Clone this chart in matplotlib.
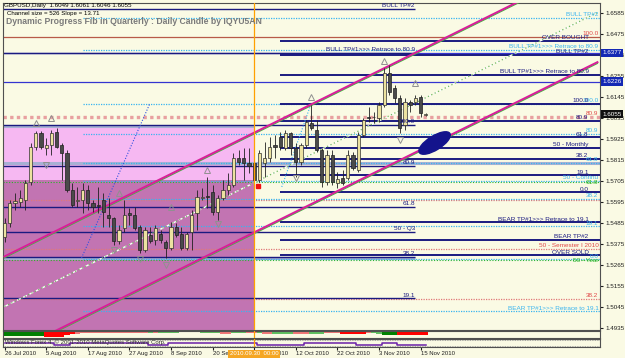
import numpy as np
import matplotlib
matplotlib.use("Agg")
import matplotlib.pyplot as plt
import matplotlib.transforms as mtransforms
from matplotlib.patches import Ellipse

plt.rcParams['font.family'] = ['Liberation Sans', 'DejaVu Sans']

# GBPUSD daily candles, 26 Jul 2010 .. 16 Nov 2010
opens = [1.5412, 1.5485, 1.5590, 1.5595, 1.5606, 1.5700, 1.5883, 1.5956, 1.5878, 1.5894,
         1.5962, 1.5894, 1.5852, 1.5658, 1.5600, 1.5606, 1.5658, 1.5590, 1.5580, 1.5606,
         1.5527, 1.5511, 1.5391, 1.5459, 1.5538, 1.5527, 1.5464, 1.5344, 1.5422, 1.5396,
         1.5427, 1.5385, 1.5354, 1.5464, 1.5427, 1.5354, 1.5438, 1.5538, 1.5616, 1.5627,
         1.5647, 1.5543, 1.5616, 1.5658, 1.5684, 1.5825, 1.5825, 1.5799, 1.5799, 1.5710,
         1.5799, 1.5825, 1.5894, 1.5935, 1.5878, 1.5956, 1.5878, 1.5804, 1.5894, 1.6009,
         1.5972, 1.5867, 1.5700, 1.5841, 1.5695, 1.5721, 1.5721, 1.5841, 1.5763, 1.5946,
         1.6040, 1.6040, 1.6035, 1.6103, 1.6271, 1.6192, 1.6140, 1.5998, 1.6118, 1.6118,
         1.6145, 1.6049]
highs = [1.5511, 1.5606, 1.5642, 1.5658, 1.5710, 1.5904, 1.5967, 1.5967, 1.5930, 1.5972,
         1.5983, 1.5904, 1.5867, 1.5695, 1.5674, 1.5695, 1.5684, 1.5606, 1.5674, 1.5642,
         1.5616, 1.5516, 1.5475, 1.5606, 1.5564, 1.5569, 1.5475, 1.5464, 1.5464, 1.5475,
         1.5448, 1.5396, 1.5490, 1.5485, 1.5464, 1.5438, 1.5553, 1.5658, 1.5668, 1.5726,
         1.5684, 1.5632, 1.5710, 1.5747, 1.5851, 1.5867, 1.5878, 1.5878, 1.5867, 1.5867,
         1.5909, 1.5935, 1.5946, 1.5962, 1.5972, 1.5962, 1.5904, 1.5904, 1.6025, 1.6103,
         1.6025, 1.5878, 1.5867, 1.5867, 1.5752, 1.5763, 1.5867, 1.5857, 1.5962, 1.6035,
         1.6092, 1.6066, 1.6118, 1.6297, 1.6313, 1.6207, 1.6156, 1.6140, 1.6129, 1.6156,
         1.6156, 1.6061]
lows = [1.5386, 1.5464, 1.5553, 1.5569, 1.5553, 1.5684, 1.5867, 1.5873, 1.5841, 1.5841,
        1.5878, 1.5710, 1.5648, 1.5569, 1.5569, 1.5538, 1.5553, 1.5543, 1.5538, 1.5464,
        1.5464, 1.5370, 1.5375, 1.5438, 1.5475, 1.5448, 1.5328, 1.5333, 1.5380, 1.5370,
        1.5380, 1.5302, 1.5344, 1.5412, 1.5344, 1.5344, 1.5344, 1.5448, 1.5606, 1.5564,
        1.5527, 1.5501, 1.5606, 1.5632, 1.5674, 1.5789, 1.5710, 1.5747, 1.5684, 1.5700,
        1.5726, 1.5804, 1.5825, 1.5867, 1.5867, 1.5841, 1.5726, 1.5789, 1.5878, 1.5972,
        1.5857, 1.5674, 1.5684, 1.5684, 1.5668, 1.5684, 1.5710, 1.5763, 1.5752, 1.5935,
        1.6014, 1.6009, 1.6014, 1.6092, 1.6156, 1.6113, 1.5956, 1.5972, 1.6066, 1.6103,
        1.6040, 1.6046]
closes = [1.5485, 1.5590, 1.5600, 1.5616, 1.5695, 1.5883, 1.5956, 1.5883, 1.5894, 1.5956,
          1.5883, 1.5852, 1.5658, 1.5580, 1.5606, 1.5658, 1.5590, 1.5569, 1.5575, 1.5543,
          1.5511, 1.5391, 1.5448, 1.5527, 1.5527, 1.5459, 1.5344, 1.5448, 1.5391, 1.5459,
          1.5396, 1.5354, 1.5464, 1.5422, 1.5354, 1.5427, 1.5527, 1.5621, 1.5621, 1.5621,
          1.5543, 1.5616, 1.5658, 1.5684, 1.5825, 1.5804, 1.5799, 1.5783, 1.5710, 1.5852,
          1.5825, 1.5883, 1.5883, 1.5883, 1.5956, 1.5878, 1.5804, 1.5894, 1.6014, 1.5983,
          1.5867, 1.5700, 1.5841, 1.5700, 1.5716, 1.5695, 1.5841, 1.5773, 1.5946, 1.6025,
          1.6035, 1.6040, 1.6103, 1.6271, 1.6171, 1.6140, 1.5983, 1.6118, 1.6103, 1.6140,
          1.6061, 1.6055]

date_bars = [0, 8, 16, 24, 32, 40, 48, 56, 64, 72, 80]
date_labels = ['26 Jul 2010', '5 Aug 2010', '17 Aug 2010', '27 Aug 2010', '8 Sep 2010',
               '20 Sep 2010', '30 Sep 2010', '12 Oct 2010', '22 Oct 2010', '3 Nov 2010',
               '15 Nov 2010']
price_ticks = [1.4935, 1.5045, 1.5155, 1.5265, 1.5375, 1.5485, 1.5595, 1.5705, 1.5815,
               1.5925, 1.6035, 1.6145, 1.6255, 1.6365, 1.6475, 1.6585]

# quarterly fib (navy, runs to bar 79)
q_levels = [1.6606, 1.6377, 1.5998, 1.5784, 1.5569, 1.5438, 1.5307, 1.5092]
q_labels = ['BULL TP#2', 'BULL TP#1>>> Retrace to 80.9', '100.0', '80.9', '61.8',
            '50 - Q3', '38.2', '19.1']
# monthly fib (navy, thick, from bar 53)
m_levels = [1.6438, 1.6365, 1.6260, 1.6108, 1.6019, 1.5935, 1.5878, 1.5820, 1.5736,
            1.5647, 1.5490, 1.5396, 1.5317]
m_labels = ['OVER BOUGHT', 'BULL TP#2', 'BULL TP#1>>> Retrace to 80.9', '100.0', '80.9',
            '61.8', '50 - Monthly', '38.2', '19.1', '0.0', 'BEAR TP#1>>> Retrace to 19.1',
            'BEAR TP#2', 'OVER SOLD']
# continuous fib (cyan dotted, from bar 15)
c_levels = [1.6559, 1.6391, 1.6108, 1.5951, 1.5799, 1.5705, 1.5611, 1.5469, 1.5296, 1.5024]
c_labels = ['BULL TP#2', 'BULL TP#1>>> Retrace to 80.9', '100.0', '80.9', '61.8',
            '50 - Continu', '38.2', '19.1', '0.0', 'BEAR TP#1>>> Retrace to 19.1']
# semester fib (red)
s_levels = [1.6459, 1.6040, 1.5606, 1.5349, 1.5087]
s_labels = ['100.0', '80.9', '', '50 - Semester I 2010', '38.2']
# year fib (green)
yr_levels = [1.5700, 1.5291]
yr_labels = ['61.8', '50 - Year']
# grey highlight lines
hl_levels = [1.5993, 1.5799, 1.5302]
hl_ends = [48, 115, 79]

# coloured zone left of the quarter start
zone_top = 1.5993
zone_mid = 1.5710

# regression channel
chan_x = [0, 114]
chan_upper = [1.5310, 1.6849]
chan_mid = [1.5048, 1.6587]
chan_lower = [1.4788, 1.6327]

fan1_x = [14.8, 27.9]
fan1_y = [1.5302, 1.6108]
fan2_x = [53.3, 59.0]
fan2_y = [1.5674, 1.6114]

up_bars = [6, 9, 22, 32, 39, 59, 73, 79]
up_price = [1.6009, 1.6035, 1.5642, 1.5569, 1.5763, 1.6145, 1.6334, 1.6218]
dn_bars = [8, 21, 26, 31, 41, 56, 76]
dn_price = [1.5789, 1.5344, 1.5296, 1.5265, 1.5480, 1.5721, 1.5920]

box_prices = [1.6377, 1.6226, 1.6055]
box_colors = ['#1428B4', '#1428B4', '#101010']

osc = [0.8, 0.8, 0.8, 0.8, 0.8, 0.8, 0.8, 0.8, -0.9, -0.9,
       -0.9, -0.9, -0.6, -0.5, -0.4, -0.35, -0.3, -0.2, -0.2, -0.2,
       -0.2, -0.2, -0.2, -0.2, -0.3, -0.3, -0.25, -0.25, 0.3, -0.3,
       0.2, 0.2, 0.2, 0.2, 0.15, 0.15, 0.15, 0.15, 0.3, 0.3,
       0.3, 0.3, -0.4, -0.4, 0.35, 0.35, 0.35, -0.3, -0.3, 0.3,
       -0.4, -0.4, 0.4, 0.4, 0.4, 0.4, -0.4, -0.4, -0.4, 0.4,
       0.4, 0.4, -0.3, -0.3, -0.3, -0.5, -0.5, -0.5, -0.5, -0.5,
       -0.3, 0.3, 0.4, 0.6, 0.6, 0.6, -0.6, -0.6, -0.6, -0.6,
       -0.6, -0.6]
osc2 = [0, 0, 0, 0, 0, 0, 0, 0, 0, 0,
        -0.6, -0.6, -0.6, 0, 0, 0, 0, 0, 0, 0,
        0, 0, 0, 0, 0, 0, 0, 0, -0.6, -0.6,
        -0.6, -0.6, 0, 0, 0, 0, 0, 0, 0, 0,
        0, 0, 0, 0, 0, 0, 0, 0, 0, -0.6,
        -0.6, -0.6, -0.6, -0.6, -0.6, -0.6, -0.6, -0.6, 0, 0,
        0, 0, 0, 0, 0, 0, 0, 0, -0.6, -0.6,
        -0.6, -0.6, -0.6, 0, 0, 0, -0.6, -0.6, -0.6, -0.6,
        -0.6, -0.6]

BG = '#FAFAE4'
NAVY = '#1A1A80'
CYAN = '#38B4F0'
RED = '#E04848'
GREEN = '#28B428'
W, H = 625, 358

fig = plt.figure(figsize=(6.25, 3.58), dpi=100, facecolor=BG)


def pix_axes(x0, y0, x1, y1):
    return fig.add_axes([x0 / W, 1 - y1 / H, (x1 - x0) / W, (y1 - y0) / H])


ax = pix_axes(3, 3, 600, 330)
ax1 = pix_axes(3, 331, 600, 338)
ax2 = pix_axes(3, 339, 600, 347)
x0, x1 = -0.3, 114.5
for a in (ax, ax1, ax2):
    a.set_facecolor(BG)
    a.set_xlim(x0, x1)
    for s in a.spines.values():
        s.set_color('#505050')
        s.set_linewidth(0.8)
ax.set_ylim(1.4925, 1.6637)

# zone
ax.fill_between([x0, 48], zone_mid, zone_top, color='#F6B8F2', lw=0, zorder=0.5)
ax.fill_between([x0, 48], 1.4925, zone_mid, color='#C274B2', lw=0, zorder=0.5)

# highlight lines
for lev, xe in zip(hl_levels, hl_ends):
    ax.hlines(lev, x0, xe, color='#A8B0D4', lw=2.2, zorder=1)

fs = 4.6
lx_q, lx_m, lx_r = 78.9, 112.3, 114.2

# semester (red)
ax.hlines(s_levels[0], x0, x1, color='#B85A48', lw=0.9, zorder=1.5)
ax.hlines(s_levels[1], x0, x1, color='#E8A0A0', lw=2.4, linestyles=(0, (1, 1)), zorder=1.5)
ax.hlines(s_levels[2:], x0, x1, color='#E07878', lw=0.9, linestyles=(0, (1, 1)), zorder=1.5)
for lev, lab in zip(s_levels, s_labels):
    ax.text(lx_r, lev + 0.0003, lab, ha='right', va='bottom', fontsize=fs, color=RED, zorder=6)

# year (green)
ax.hlines(yr_levels, x0, x1, color=GREEN, lw=0.8, linestyles=(0, (1, 1.5)), zorder=1.5)
for lev, lab in zip(yr_levels, yr_labels):
    ax.text(lx_r, lev - 0.0002, lab, ha='right', va='center', fontsize=fs, color=GREEN, zorder=6)

# continuous (cyan)
ax.hlines(c_levels, 15, x1, color=CYAN, lw=0.9, linestyles=(0, (1, 1)), zorder=1.6)
for lev, lab in zip(c_levels, c_labels):
    ax.text(lx_r, lev + 0.0003, lab, ha='right', va='bottom', fontsize=fs, color=CYAN, zorder=6)

# price box lines (blue)
ax.hlines(box_prices[:2], x0, x1, color='#3434D0', lw=0.9, zorder=1.7)

# quarterly (navy)
ax.hlines(q_levels, x0, 79, color=NAVY, lw=1.0, zorder=1.8)
for lev, lab in zip(q_levels, q_labels):
    ax.text(lx_q, lev + 0.0003, lab, ha='right', va='bottom', fontsize=fs, color=NAVY, zorder=6)

# monthly (navy, thick)
ax.hlines(m_levels, 53, x1, color=NAVY, lw=1.4, zorder=1.8)
for lev, lab in zip(m_levels, m_labels):
    ax.text(lx_m, lev + 0.0003, lab, ha='right', va='bottom', fontsize=fs, color=NAVY, zorder=6)

# channel: magenta line with a thin green edge just under it
edge = mtransforms.offset_copy(ax.transData, fig=fig, x=0, y=-1.2, units='dots')
for yy in (chan_upper, chan_lower):
    ax.plot(chan_x, yy, color='#3CC03C', lw=0.9, zorder=3, transform=edge)
    ax.plot(chan_x, yy, color='#D8209A', lw=1.5, zorder=3.1)
ax.plot(chan_x, chan_mid, color='white', lw=1.0, ls=(0, (3, 2)), zorder=3)
ax.plot(chan_x, chan_mid, color='#70B860', lw=0.9, ls=(0, (1, 2)), zorder=3.1)

ax.plot(fan1_x, fan1_y, color='#3050E0', lw=0.8, ls=(0, (1, 1.5)), zorder=3)
ax.plot(fan2_x, fan2_y, color=CYAN, lw=0.8, ls=(0, (1, 1.5)), zorder=3)

# candles
o, h, l, c = map(np.array, (opens, highs, lows, closes))
idx = np.arange(len(o))
bull = c >= o
ax.vlines(idx, l, h, color='#202020', lw=0.6, zorder=4)
lo = np.minimum(o, c)
bh = np.maximum(np.abs(c - o), 0.0002)
ax.bar(idx[bull], bh[bull], 0.6, bottom=lo[bull], color='#ECE2A0',
       edgecolor='#303030', lw=0.5, zorder=5)
ax.bar(idx[~bull], bh[~bull], 0.6, bottom=lo[~bull], color='#4A4A4A',
       edgecolor='#202020', lw=0.5, zorder=5)

# fractals
ax.plot(up_bars, up_price, ls='none', marker='^', ms=4, mfc='none', mec='#909090', mew=0.7, zorder=5)
ax.plot(dn_bars, dn_price, ls='none', marker='v', ms=4, mfc='none', mec='#909090', mew=0.7, zorder=5)
ax.plot([48.8], [1.5679], ls='none', marker='s', ms=3.5, color='#F01010', zorder=6)

# ellipse
trans = fig.dpi_scale_trans + mtransforms.ScaledTranslation(82.7, 1.5904, ax.transData)
ax.add_patch(Ellipse((0, 0), 0.36, 0.14, angle=32, transform=trans, color='#14148C', zorder=7))

# quarter start
for a in (ax, ax1, ax2):
    a.axvline(48, color='#FFA000', lw=0.9, zorder=8)

# headers
ax.text(0.002, 0.991, 'GBPUSD,Daily  1.6049 1.6061 1.6046 1.6055', transform=ax.transAxes,
        fontsize=4.5, va='center', ha='left', zorder=9)
ax.text(0.007, 0.969, 'Channel size = 526 Slope = 13.71', transform=ax.transAxes,
        fontsize=4.4, va='center', ha='left', zorder=9)
ax.text(0.005, 0.944, 'Dynamic Progress Fib in Quarterly : Daily Candle by IQYU5AN',
        transform=ax.transAxes, fontsize=6.2, fontweight='bold', color='#7A7A7A',
        va='center', ha='left', zorder=9)

# price axis
ax.yaxis.tick_right()
ax.set_yticks(price_ticks)
ax.set_yticklabels([f'{p:.4f}' for p in price_ticks])
ax.tick_params(axis='y', labelsize=4.5, length=2, pad=2, colors='#202020')
ax.set_xticks([])
bt = mtransforms.blended_transform_factory(ax.transAxes, ax.transData)
for p, col in zip(box_prices, box_colors):
    ax.text(1.004, p, f'{p:.4f}', transform=bt, fontsize=4.5, color='white', ha='left',
            va='center', zorder=10, clip_on=False,
            bbox=dict(boxstyle='square,pad=0.25', fc=col, ec='none'))

# sub panels
oa = np.array(osc)
cols = ['#008000' if v >= 0.5 else '#60C060' if v > 0 else '#FF0000' if v <= -0.5 else '#F07878'
        for v in oa]
ax1.bar(idx, -np.abs(oa), 1.0, color=cols, lw=0)
ax1.set_ylim(-1.1, 0.05)
ax1.set_xticks([])
ax1.set_yticks([])

ax2.axhline(1, color='#909090', lw=0.6, ls=(0, (1, 1)))
ax2.axhline(-1, color='#909090', lw=0.6, ls=(0, (1, 1)))
ax2.step(idx, osc2, where='mid', color='#6A1FA8', lw=1.1)
ax2.set_ylim(-1.5, 1.5)
ax2.set_yticks([])
ax2.text(0.004, 0.55, 'Windows Forex 4, \u00a9 2001-2010 MetaQuotes Software Corp.',
         transform=ax2.transAxes, fontsize=4.3, color='#303030', va='center')
ax2.set_xticks(date_bars)
ax2.set_xticklabels(date_labels)
ax2.tick_params(axis='x', labelsize=4.3, length=2, pad=1, colors='#202020')
for t in ax2.get_xticklabels():
    t.set_ha('left')
bx = mtransforms.blended_transform_factory(ax2.transData, ax2.transAxes)
ax2.text(48, -0.85, '2010.09.30  00:00', transform=bx, fontsize=4.3, color='white',
         ha='center', va='center', zorder=10, clip_on=False,
         bbox=dict(boxstyle='square,pad=0.3', fc='#F5A623', ec='none'))

fig.savefig('out.png', dpi=100, facecolor=BG)
